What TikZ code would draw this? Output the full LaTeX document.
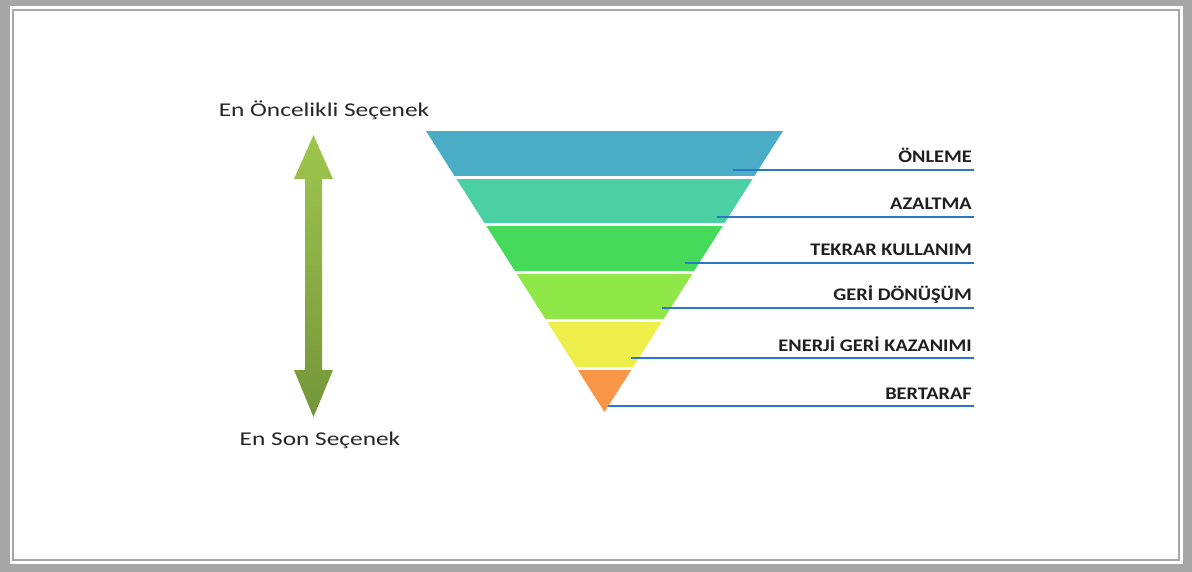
\documentclass[tikz,border=0pt]{standalone}
\usepackage{fontspec}
\setmainfont{Carlito}
\newfontfamily\sidefont[FakeStretch=1.3]{Carlito}
\newfontfamily\levelfont[FakeStretch=1.15]{Carlito}
\begin{document}
\begin{tikzpicture}[x=1pt,y=-1pt,
  levellabel/.style={anchor=base east,inner sep=0pt,font=\levelfont\bfseries\fontsize{17.7}{20}\selectfont,text=black!88},
  endlabel/.style={anchor=base,inner sep=0pt,font=\sidefont\fontsize{19.5}{22}\selectfont,text=black!85},
  leader/.style={draw=leaderblue,line width=1.3pt}]
\definecolor{framegray}{HTML}{A6A6A6}
\definecolor{leaderblue}{HTML}{2A78C8}
\definecolor{bandA}{HTML}{4BACC6}
\definecolor{bandB}{HTML}{4BD0A3}
\definecolor{bandC}{HTML}{46DA5A}
\definecolor{bandD}{HTML}{8FE748}
\definecolor{bandE}{HTML}{EDEE4A}
\definecolor{bandF}{HTML}{F79646}
\definecolor{arrowtop}{HTML}{9FC64E}
\definecolor{arrowbot}{HTML}{739539}
\useasboundingbox (0,0) rectangle (1192,572);
% double frame
\fill[framegray] (0,0) rectangle (1192,572);
\fill[white] (10,6) rectangle (1183,564);
\draw[framegray,line width=2pt] (13,10) rectangle (1179,560);
% inverted funnel, cut into six bands
\begin{scope}
  \clip (426,131) -- (783,131) -- (604.5,412) -- cycle;
  \fill[bandA] (400,131) rectangle (800,177.5);
  \fill[bandB] (400,177.5) rectangle (800,224.5);
  \fill[bandC] (400,224.5) rectangle (800,272.5);
  \fill[bandD] (400,272.5) rectangle (800,320.5);
  \fill[bandE] (400,320.5) rectangle (800,368.5);
  \fill[bandF] (400,368.5) rectangle (800,420);
  \foreach \yy in {177.5,224.5,272.5,320.5,368.5}
    \draw[white,line width=3pt] (400,\yy) -- (800,\yy);
\end{scope}
% leaders and level labels
\foreach \name/\sx/\ly/\txt in {
  a/733/170/ÖNLEME,
  b/717/217/AZALTMA,
  c/685/263/TEKRAR KULLANIM,
  d/662/308/GERİ DÖNÜŞÜM,
  e/631/358/ENERJİ GERİ KAZANIMI,
  f/608/406/BERTARAF}{
  \coordinate (s\name) at (\sx,\ly);
  \coordinate (e\name) at (974,\ly);
  \node[levellabel] (l\name) at (972,\ly-7) {\txt};
  \draw[leader] (s\name) -- (e\name);
}
% priority arrow
\shade[top color=arrowtop,bottom color=arrowbot]
  (313.5,135) -- (333,179) -- (322,179) -- (322,370) -- (333,370)
  -- (313.5,417) -- (294,370) -- (305,370) -- (305,179) -- (294,179) -- cycle;
\node[endlabel] (top) at (324,117) {En Öncelikli Seçenek};
\node[endlabel] (bottom) at (320,445) {En Son Seçenek};
\end{tikzpicture}
\end{document}
